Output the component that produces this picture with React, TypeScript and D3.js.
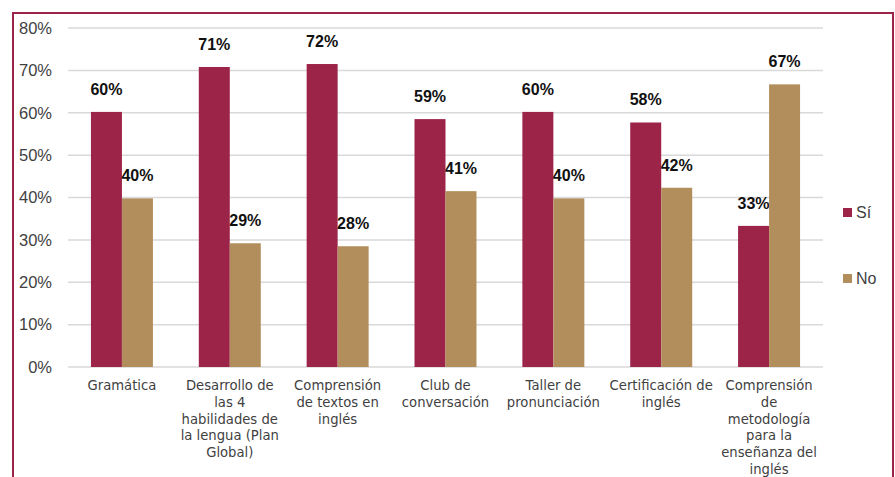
import React from "react";
import * as d3 from "d3";

const categories: string[][] = [
  ["Gramática"],
  ["Desarrollo de", "las 4", "habilidades de", "la lengua (Plan", "Global)"],
  ["Comprensión", "de textos en", "inglés"],
  ["Club de", "conversación"],
  ["Taller de", "pronunciación"],
  ["Certificación de", "inglés"],
  ["Comprensión", "de", "metodología", "para la", "enseñanza del", "inglés"],
];
const categoryKeys = ["g", "d", "c", "club", "t", "cert", "cm"];
const seriesNames = ["Sí", "No"];
const siValues = [60.2, 70.8, 71.5, 58.5, 60.2, 57.7, 33.3];
const noValues = [39.8, 29.2, 28.5, 41.5, 39.8, 42.3, 66.7];
const siLabels = ["60%", "71%", "72%", "59%", "60%", "58%", "33%"];
const noLabels = ["40%", "29%", "28%", "41%", "40%", "42%", "67%"];
const yTicks = [0, 10, 20, 30, 40, 50, 60, 70, 80];
const colors = ["#9D2449", "#B38E5D"];

export default function App() {
  const W = 895,
    H = 477;
  const left = 68,
    right = 823,
    top = 28,
    bottom = 367;
  const y = d3.scaleLinear().domain([0, 80]).range([bottom, top]);
  const x0 = d3.scaleBand<string>().domain(categoryKeys).range([left, right]).padding(0);
  const x1 = d3
    .scaleBand<string>()
    .domain(seriesNames)
    .range([0, x0.bandwidth()])
    .paddingInner(0)
    .paddingOuter(0.74);
  const series = [siValues, noValues];
  const labels = [siLabels, noLabels];

  return (
    <svg
      width={W}
      height={H}
      style={{ position: "absolute", left: 0, top: 0, background: "#fff" }}
    >
      <rect x={13} y={13} width={880} height={480} fill="#fff" stroke="#9D2449" strokeWidth={2} />
      {yTicks.map((t) => (
        <g key={t}>
          <line x1={left} x2={right} y1={y(t)} y2={y(t)} stroke="#d9d9d9" strokeWidth={1.5} />
          <text
            x={52}
            y={y(t)}
            dy="0.35em"
            textAnchor="end"
            fontFamily="Liberation Sans, Arial, sans-serif"
            fontSize={16.5}
            fill="#3f3f3f"
          >
            {t}%
          </text>
        </g>
      ))}
      {categoryKeys.map((k, i) => (
        <g key={k} transform={`translate(${x0(k)},0)`}>
          {seriesNames.map((s, j) => {
            const v = series[j][i];
            const bx = x1(s)!;
            const bw = x1.bandwidth();
            return (
              <g key={s}>
                <rect x={bx} y={y(v)} width={bw} height={y(0) - y(v)} fill={colors[j]} />
                <text
                  x={bx + bw / 2}
                  y={y(v) - 17}
                  textAnchor="middle"
                  fontFamily="Liberation Sans, Arial, sans-serif"
                  fontWeight="bold"
                  fontSize={16}
                  fill="#111"
                >
                  {labels[j][i]}
                </text>
              </g>
            );
          })}
          <text
            textAnchor="middle"
            fontFamily="DejaVu Sans, sans-serif"
            fontSize={13.2}
            fill="#3f3f3f"
          >
            {categories[i].map((line, li) => (
              <tspan key={li} x={x0.bandwidth() / 2} y={390 + li * 16.8}>
                {line}
              </tspan>
            ))}
          </text>
        </g>
      ))}
      {seriesNames.map((s, j) => (
        <g key={s} transform={`translate(843,${208 + j * 66})`}>
          <rect x={0} y={0} width={9} height={9} fill={colors[j]} />
          <text
            x={13}
            y={4.5}
            dy="0.35em"
            fontFamily="Liberation Sans, Arial, sans-serif"
            fontSize={16}
            fill="#3f3f3f"
          >
            {s}
          </text>
        </g>
      ))}
    </svg>
  );
}
